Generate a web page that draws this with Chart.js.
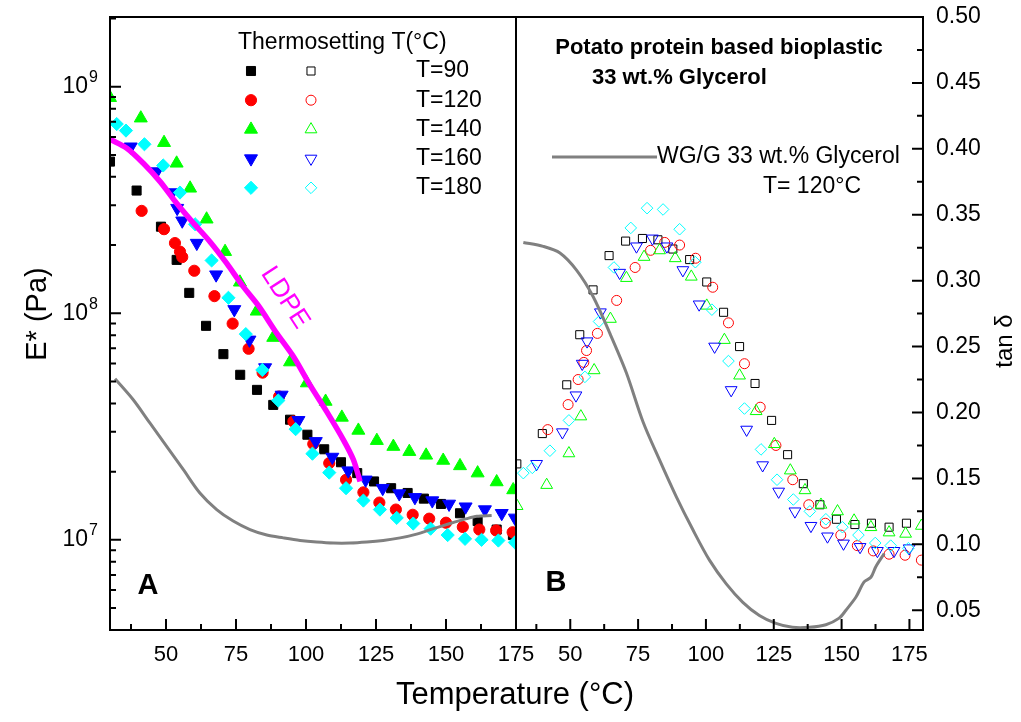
<!DOCTYPE html>
<html>
<head>
<meta charset="utf-8">
<script src="https://cdn.jsdelivr.net/npm/chart.js@4.4.0/dist/chart.umd.min.js"></script>
<style>
  html, body { margin: 0; padding: 0; background: #fff; }
  #wrap { position: relative; width: 1021px; height: 722px; }
  #wrap canvas { position: absolute; left: 0; top: 0; }
</style>
</head>
<body>
<div id="wrap">
  <canvas id="chartA" width="1021" height="722"></canvas>
  <canvas id="chartB" width="1021" height="722"></canvas>
</div>
<script>
var FONT = '"Liberation Sans", Arial, Helvetica, sans-serif';
Chart.defaults.font.family = FONT;
Chart.defaults.color = '#000';

// tick labels
var tempTicks = [50, 75, 100, 125, 150, 175];
var modulusTicks = [1e7, 1e8, 1e9];
var tanTicks = [0.05, 0.10, 0.15, 0.20, 0.25, 0.30, 0.35, 0.40, 0.45, 0.50];

var seriesLabels = ['T=90', 'T=120', 'T=140', 'T=160', 'T=180'];
var seriesColors = ['#000000', '#ff0000', '#00ff00', '#0000ff', '#00ffff'];

// panel A : E* (Pa), filled symbols
var tempE90 = [30, 39.5, 48.2, 53.8, 58.3, 64.3, 70.5, 76.5, 82.5, 88.3, 94.3, 100.5, 106.5, 112.5, 118.3, 124.3, 130.4, 136.3, 142.1, 148.2, 155, 161.3, 168.1, 173.9];
var modE90 = [4.67e8, 3.48e8, 2.41e8, 1.72e8, 1.23e8, 8.8e7, 6.6e7, 5.35e7, 4.59e7, 3.94e7, 3.39e7, 2.91e7, 2.51e7, 2.20e7, 1.97e7, 1.81e7, 1.69e7, 1.61e7, 1.52e7, 1.44e7, 1.31e7, 1.21e7, 1.11e7, 1.05e7];

var tempE120 = [41.3, 49.3, 53.2, 55, 55.8, 60.1, 67.3, 73.8, 79.5, 84.5, 90.4, 95.5, 102.6, 108.3, 114.3, 120.5, 126.2, 132.1, 138.1, 144, 150, 156, 161.9, 167.9, 173.8];
var modE120 = [2.83e8, 2.35e8, 2.04e8, 1.87e8, 1.77e8, 1.54e8, 1.19e8, 9.0e7, 6.97e7, 5.47e7, 4.29e7, 3.33e7, 2.65e7, 2.18e7, 1.84e7, 1.62e7, 1.46e7, 1.36e7, 1.29e7, 1.24e7, 1.19e7, 1.14e7, 1.11e7, 1.10e7, 1.08e7];

var tempE140 = [30, 41, 49.3, 53.8, 58.6, 64.5, 71.1, 76.4, 82.4, 88.3, 94.3, 100.3, 107, 112.8, 118.7, 125.3, 131.2, 136.9, 142.9, 149, 155, 161.3, 168.1, 174];
var modE140 = [8.94e8, 7.26e8, 5.66e8, 4.59e8, 3.56e8, 2.60e8, 1.87e8, 1.37e8, 1.02e8, 7.81e7, 6.09e7, 4.92e7, 4.08e7, 3.47e7, 3.04e7, 2.74e7, 2.58e7, 2.45e7, 2.36e7, 2.24e7, 2.12e7, 1.97e7, 1.80e7, 1.66e7];

var tempE160 = [37.4, 46.7, 52.2, 54, 55.8, 61, 67.9, 74.4, 79.8, 85.4, 91.3, 97.3, 103.5, 109.4, 115.1, 121.3, 127.4, 133.3, 138.9, 145.1, 151.1, 157, 163.9, 169.9, 174.6];
var modE160 = [5.43e8, 4.22e8, 3.41e8, 2.91e8, 2.56e8, 2.04e8, 1.48e8, 1.04e8, 7.63e7, 5.76e7, 4.36e7, 3.37e7, 2.72e7, 2.32e7, 2.02e7, 1.84e7, 1.69e7, 1.60e7, 1.54e7, 1.49e7, 1.44e7, 1.40e7, 1.36e7, 1.31e7, 1.25e7];

var tempE180 = [32.4, 35.7, 42.3, 49, 55, 60.4, 66.3, 72.3, 78.5, 84.4, 90.1, 96.3, 102.3, 108.3, 114.3, 120.5, 126.4, 132.4, 138.3, 144.5, 150.6, 156.8, 162.7, 168.7, 174.6];
var modE180 = [6.84e8, 6.40e8, 5.57e8, 4.49e8, 3.41e8, 2.47e8, 1.71e8, 1.17e8, 8.09e7, 5.62e7, 4.12e7, 3.08e7, 2.40e7, 1.98e7, 1.69e7, 1.49e7, 1.36e7, 1.25e7, 1.18e7, 1.12e7, 1.05e7, 1.01e7, 1.00e7, 9.93e6, 9.74e6];

var tempLdpe = [30, 36, 41.9, 47.9, 53.8, 59.8, 65.7, 71.7, 77.6, 83, 89.5, 95.5, 101.4, 107.4, 113.3, 116.9, 119.3];
var modLdpe = [5.86e8, 5.35e8, 4.59e8, 3.81e8, 3.06e8, 2.50e8, 2.07e8, 1.66e8, 1.31e8, 1.08e8, 8.17e7, 6.44e7, 4.83e7, 3.68e7, 2.77e7, 2.26e7, 1.81e7];

var tempWgE = [31.8, 38.3, 44.3, 50.3, 56.2, 62.1, 68.1, 74, 80, 86, 91.9, 97.9, 103.8, 109.8, 115.7, 121.7, 127.6, 133.6, 139.5, 145.5, 151.4, 157.4, 161, 166.3];
var modWgE = [5.14e7, 4.15e7, 3.27e7, 2.58e7, 2.04e7, 1.61e7, 1.36e7, 1.21e7, 1.11e7, 1.05e7, 1.02e7, 9.94e6, 9.78e6, 9.68e6, 9.68e6, 9.78e6, 9.94e6, 1.02e7, 1.06e7, 1.12e7, 1.18e7, 1.24e7, 1.27e7, 1.28e7];

// panel B : tan delta, open symbols
var tempT90 = [30.3, 39.7, 48.7, 53.5, 58.4, 64.3, 70.4, 76.6, 82.3, 87.8, 94, 100.3, 106.5, 112.4, 118.1, 124.2, 130.1, 135.9, 142, 148.1, 154.9, 161, 167.5, 173.9];
var tanT90 = [0.161, 0.184, 0.221, 0.259, 0.293, 0.319, 0.330, 0.332, 0.331, 0.324, 0.316, 0.299, 0.276, 0.250, 0.222, 0.194, 0.168, 0.146, 0.130, 0.119, 0.115, 0.116, 0.113, 0.116];

var tempT120 = [41.7, 49.2, 52.9, 55, 56, 60, 67.1, 73.9, 79.6, 84.8, 90.3, 96.2, 102.5, 108.3, 114.2, 120, 125.8, 132, 137.9, 144, 149.7, 155.8, 161.7, 167.5, 173.4, 179.4];
var tanT120 = [0.187, 0.206, 0.225, 0.238, 0.247, 0.260, 0.285, 0.310, 0.323, 0.329, 0.327, 0.317, 0.295, 0.268, 0.237, 0.204, 0.175, 0.149, 0.130, 0.116, 0.107, 0.099, 0.095, 0.0925, 0.0917, 0.088];

var tempT140 = [30.4, 41.3, 49.5, 53.9, 58.8, 64.8, 70.7, 77.2, 82.9, 88.7, 94.6, 100.3, 106.8, 112.4, 118.5, 125.2, 131.1, 136.5, 142.4, 148.5, 154.6, 160.8, 167.5, 173.6, 179.4];
var tanT140 = [0.129, 0.145, 0.169, 0.197, 0.232, 0.271, 0.302, 0.318, 0.323, 0.317, 0.303, 0.281, 0.255, 0.228, 0.201, 0.176, 0.156, 0.141, 0.130, 0.125, 0.118, 0.113, 0.109, 0.108, 0.114];

var tempT160 = [37.6, 47.1, 52.1, 54.4, 56.2, 61.1, 68.2, 74.4, 80.3, 85.6, 91.5, 97.5, 103.2, 109.3, 115, 120.9, 126.8, 132.8, 138.7, 144.8, 150.7, 156.8, 163.2, 169.3, 174.9];
var tanT160 = [0.161, 0.185, 0.213, 0.237, 0.254, 0.276, 0.306, 0.326, 0.332, 0.326, 0.308, 0.282, 0.250, 0.217, 0.187, 0.160, 0.140, 0.125, 0.114, 0.106, 0.1006, 0.098, 0.095, 0.095, 0.097];

var tempT180 = [32.7, 36, 42.5, 49.5, 55.4, 60.6, 66.1, 72.3, 78.3, 84.2, 90.3, 96.1, 102.2, 108.3, 114.2, 120.3, 126.2, 132.2, 138.3, 144.2, 150.3, 156.2, 162.4, 168.1, 174.6];
var tanT180 = [0.154, 0.158, 0.171, 0.194, 0.227, 0.269, 0.310, 0.340, 0.355, 0.354, 0.339, 0.314, 0.278, 0.239, 0.203, 0.172, 0.149, 0.134, 0.125, 0.119, 0.113, 0.107, 0.101, 0.099, 0.097];

var tempWgTan = [32.7, 40, 46.2, 52.3, 58.4, 64.6, 70.7, 76.8, 82.9, 89.1, 95.2, 101.3, 107.5, 113.6, 119.7, 125.8, 131.9, 138.1, 144.2, 149.1, 151.6, 155.3, 158.3, 160.8, 162.6, 165.7];
var tanWg = [0.329, 0.326, 0.321, 0.308, 0.288, 0.260, 0.230, 0.193, 0.164, 0.136, 0.111, 0.088, 0.070, 0.056, 0.046, 0.040, 0.037, 0.037, 0.039, 0.044, 0.050, 0.060, 0.0715, 0.075, 0.083, 0.093];

var fillTemps = [tempE90, tempE120, tempE140, tempE160, tempE180];
var fillVals = [modE90, modE120, modE140, modE160, modE180];
var openTemps = [tempT90, tempT120, tempT140, tempT160, tempT180];
var openVals = [tanT90, tanT120, tanT140, tanT160, tanT180];

// symbol per series: square, circle, up triangle, down triangle, diamond
var marks = [
  { style: 'rect', rot: 0, r: 6.4, ro: 5.7 },
  { style: 'circle', rot: 0, r: 5.6, ro: 5 },
  { style: 'triangle', rot: 0, r: 7.5, ro: 6.8 },
  { style: 'triangle', rot: 180, r: 7.5, ro: 6.8 },
  { style: 'rectRot', rot: 0, r: 6.6, ro: 5.8 }
];

function pts(xs, ys) {
  return xs.map(function (x, i) { return { x: x, y: ys[i] }; });
}

var datasetsA = [
  { label: 'WG/G 33 wt.% Glycerol', data: pts(tempWgE, modWgE), showLine: true, borderColor: '#808080',
    borderWidth: 3, pointRadius: 0, tension: 0.3, order: 0 },
  { label: 'LDPE', data: pts(tempLdpe, modLdpe), showLine: true, borderColor: '#ff00ff',
    borderWidth: 5.5, pointRadius: 0, tension: 0.3, order: 1 }
];
var datasetsB = [
  { label: 'WG/G 33 wt.% Glycerol', data: pts(tempWgTan, tanWg), showLine: true, borderColor: '#808080',
    borderWidth: 3, pointRadius: 0, tension: 0.3, order: 0 }
];
for (var i = 0; i < 5; i++) {
  datasetsA.push({
    label: seriesLabels[i], data: pts(fillTemps[i], fillVals[i]), showLine: false,
    pointStyle: marks[i].style, pointRotation: marks[i].rot, pointRadius: marks[i].r, pointHoverRadius: marks[i].r,
    pointBackgroundColor: seriesColors[i], pointBorderColor: seriesColors[i], pointBorderWidth: 1, order: 7 - i
  });
  datasetsB.push({
    label: seriesLabels[i], data: pts(openTemps[i], openVals[i]), showLine: false,
    pointStyle: marks[i].style, pointRotation: marks[i].rot, pointRadius: marks[i].ro, pointHoverRadius: marks[i].ro,
    pointBackgroundColor: 'rgba(0,0,0,0)', pointBorderColor: seriesColors[i], pointBorderWidth: 1, order: 7 - i
  });
}

function txt(ctx, s, x, y, size, opts) {
  opts = opts || {};
  ctx.save();
  ctx.font = (opts.bold ? 'bold ' : '') + size + 'px ' + FONT;
  ctx.fillStyle = opts.color || '#000';
  ctx.textAlign = opts.align || 'center';
  ctx.textBaseline = 'middle';
  ctx.translate(x, y);
  if (opts.rot) ctx.rotate(opts.rot * Math.PI / 180);
  ctx.fillText(s, 0, 0);
  ctx.restore();
}

// frame plus inward major / minor ticks
function frame(chart, yId, side, yMinor) {
  var ctx = chart.ctx, a = chart.chartArea, xs = chart.scales.x, ys = chart.scales[yId];
  ctx.save();
  ctx.strokeStyle = '#000';
  ctx.lineWidth = 2;
  ctx.strokeRect(a.left, a.top, a.right - a.left, a.bottom - a.top);
  ctx.beginPath();
  var xMinor = [];
  xs.ticks.forEach(function (t) {
    var p = xs.getPixelForValue(t.value);
    ctx.moveTo(p, a.bottom); ctx.lineTo(p, a.bottom - 11);
    xMinor.push(t.value - 12.5);
  });
  xMinor.push(xs.ticks[xs.ticks.length - 1].value + 12.5);
  xMinor.forEach(function (v) {
    if (v < xs.min || v > xs.max) return;
    var p = xs.getPixelForValue(v);
    ctx.moveTo(p, a.bottom); ctx.lineTo(p, a.bottom - 6);
  });
  var x0 = side === 'left' ? a.left : a.right, dir = side === 'left' ? 1 : -1;
  ys.ticks.forEach(function (t) {
    var p = ys.getPixelForValue(t.value);
    ctx.moveTo(x0, p); ctx.lineTo(x0 + dir * 11, p);
  });
  yMinor.forEach(function (v) {
    if (v < ys.min || v > ys.max) return;
    var p = ys.getPixelForValue(v);
    ctx.moveTo(x0, p); ctx.lineTo(x0 + dir * 6, p);
  });
  ctx.stroke();
  ctx.restore();
}

var logMinor = [];
[6, 7, 8, 9].forEach(function (d) {
  for (var m = 2; m <= 9; m++) logMinor.push(m * Math.pow(10, d));
});
var tanMinor = tanTicks.map(function (v) { return v + 0.025; });

var decorA = {
  id: 'decorA',
  afterDraw: function (chart) {
    var ctx = chart.ctx, xs = chart.scales.x, ys = chart.scales.y;
    frame(chart, 'y', 'left', logMinor);
    // power-of-ten labels with a raised exponent
    ys.ticks.forEach(function (t) {
      var p = ys.getPixelForValue(t.value);
      txt(ctx, '10', 88, p, 23, { align: 'right' });
      txt(ctx, String(Math.round(Math.log10(t.value))), 89, p - 9, 16, { align: 'left' });
    });
    // legend
    txt(ctx, 'Thermosetting T(\u00b0C)', 238, 43, 23, { align: 'left' });
    for (var i = 0; i < 5; i++) {
      var y = 71 + i * 29.2;
      ctx.save();
      ctx.lineWidth = 1;
      ctx.fillStyle = seriesColors[i];
      ctx.strokeStyle = seriesColors[i];
      Chart.helpers.drawPoint(ctx, { pointStyle: marks[i].style, rotation: marks[i].rot, radius: marks[i].r, borderWidth: 1 }, 251, y);
      ctx.fillStyle = 'rgba(0,0,0,0)';
      Chart.helpers.drawPoint(ctx, { pointStyle: marks[i].style, rotation: marks[i].rot, radius: marks[i].ro, borderWidth: 1 }, 311, y);
      ctx.restore();
      txt(ctx, seriesLabels[i], 416, y, 23, { align: 'left' });
    }
    txt(ctx, 'LDPE', xs.getPixelForValue(92.5), ys.getPixelForValue(1.17e8), 26, { color: '#ff00ff', rot: 57 });
    txt(ctx, 'A', 148, 586, 29, { bold: true });
    txt(ctx, 'Temperature (\u00b0C)', 515, 695, 31);
    txt(ctx, 'E* (Pa)', 38, 314, 29, { rot: -90 });
  }
};

var decorB = {
  id: 'decorB',
  afterDraw: function (chart) {
    var ctx = chart.ctx;
    frame(chart, 'y', 'right', tanMinor);
    txt(ctx, 'Potato protein based bioplastic', 719, 48, 22, { bold: true });
    txt(ctx, '33 wt.% Glycerol', 592, 77.5, 22, { bold: true, align: 'left' });
    ctx.save();
    ctx.strokeStyle = '#808080';
    ctx.lineWidth = 3;
    ctx.beginPath(); ctx.moveTo(552, 157); ctx.lineTo(657, 157); ctx.stroke();
    ctx.restore();
    txt(ctx, 'WG/G 33 wt.% Glycerol', 657, 157, 23, { align: 'left' });
    txt(ctx, 'T= 120\u00b0C', 763, 187, 23, { align: 'left' });
    txt(ctx, 'B', 556, 583, 29, { bold: true });
    txt(ctx, 'tan \u03b4', 1005, 341, 24, { rot: -90 });
  }
};

// fixed axis sizes so both panels share the same plot box edges
function noPad(s) {
  s.paddingTop = 0; s.paddingBottom = 0; s.paddingLeft = 0; s.paddingRight = 0;
}

function xScale(max) {
  return {
    type: 'linear', position: 'bottom', min: 30, max: max, bounds: 'data',
    grid: { display: false, drawTicks: false }, border: { display: false },
    afterBuildTicks: function (s) { s.ticks = tempTicks.map(function (v) { return { value: v }; }); },
    ticks: { font: { size: 22 }, padding: 12, maxRotation: 0, autoSkip: false },
    afterFit: function (s) { s.height = 92; noPad(s); }
  };
}

var common = {
  responsive: false,
  animation: false,
  events: [],
  plugins: { legend: { display: false }, tooltip: { enabled: false } }
};

new Chart(document.getElementById('chartA'), {
  type: 'scatter',
  data: { datasets: datasetsA },
  options: Object.assign({}, common, {
    layout: { padding: { top: 17, right: 505, left: 0, bottom: 0 } },
    scales: {
      x: xScale(175),
      y: {
        type: 'logarithmic', position: 'left', min: 4e6, max: 2.03e9, bounds: 'data',
        grid: { display: false, drawTicks: false }, border: { display: false },
        afterBuildTicks: function (s) { s.ticks = modulusTicks.map(function (v) { return { value: v }; }); },
        ticks: { display: false },
        afterFit: function (s) { s.width = 110; noPad(s); }
      }
    }
  }),
  plugins: [decorA]
});

new Chart(document.getElementById('chartB'), {
  type: 'scatter',
  data: { datasets: datasetsB },
  options: Object.assign({}, common, {
    layout: { padding: { top: 17, right: 0, left: 516, bottom: 0 } },
    scales: {
      x: xScale(180),
      y: {
        type: 'linear', position: 'right', min: 0.035, max: 0.5, bounds: 'data',
        grid: { display: false, drawTicks: false }, border: { display: false },
        afterBuildTicks: function (s) { s.ticks = tanTicks.map(function (v) { return { value: v }; }); },
        ticks: {
          font: { size: 23 }, padding: 13, autoSkip: false,
          callback: function (v) { return v.toFixed(2); }
        },
        afterFit: function (s) { s.width = 98; noPad(s); }
      }
    }
  }),
  plugins: [decorB]
});
</script>
</body>
</html>
